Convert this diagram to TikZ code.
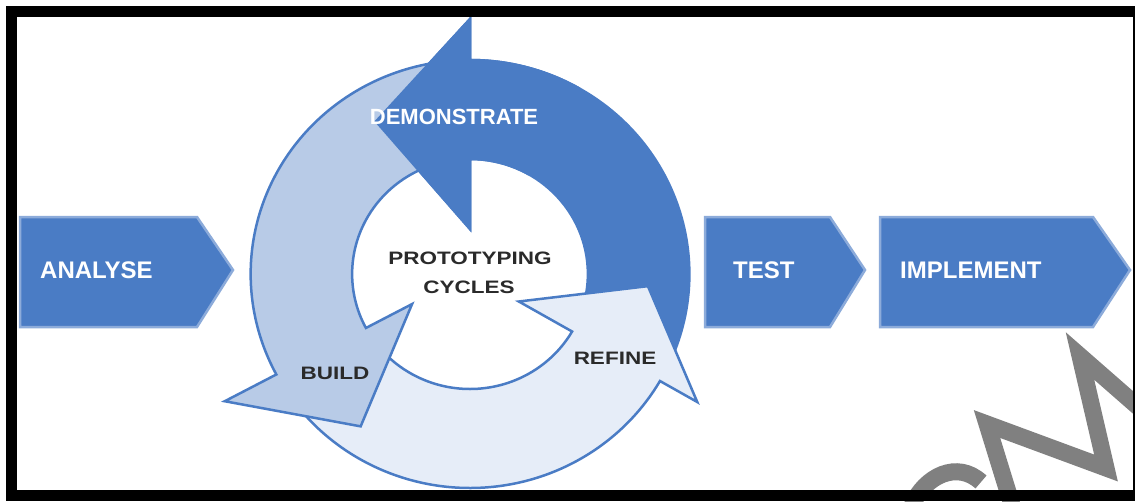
\documentclass[tikz,border=0pt]{standalone}
\usepackage{fontspec}
\setmainfont{Liberation Sans}
\usepackage{graphicx}
\definecolor{darkblue}{HTML}{4A7CC5}
\definecolor{chevedge}{HTML}{8CABDA}
\definecolor{ringblue}{HTML}{4A7CC5}
\definecolor{buildfill}{HTML}{B8CBE7}
\definecolor{refinefill}{HTML}{E6EDF8}
\definecolor{txtgrey}{HTML}{2A2A2A}
\definecolor{wmgrey}{HTML}{808080}
\begin{document}
\begin{tikzpicture}[x=1pt,y=-1pt,
  ringline/.style={draw=ringblue, line width=2.5pt, line join=miter},
  chev/.style={fill=darkblue, draw=chevedge, line width=2.5pt, line join=miter},
  chevtext/.style={text=white, font=\fontsize{24}{24}\selectfont\bfseries, anchor=west, inner sep=0pt},
  ringtext/.style={text=txtgrey, font=\fontsize{18}{18}\selectfont\bfseries, inner sep=0pt},
  wmstroke/.style={draw=wmgrey, line width=17pt, line join=miter, miter limit=10, line cap=butt}]
\useasboundingbox (0,0) rectangle (1135,501);
\clip (0,0) rectangle (1135,501);
\fill[white] (0,0) rectangle (1135,501);

% chevrons
\path[chev] (20,217) -- (197,217) -- (233,270) -- (197,327) -- (20,327) -- cycle;
\node[chevtext] (analyse) at (40,270) {ANALYSE};
\path[chev] (705,217) -- (830,217) -- (865,270) -- (830,327) -- (705,327) -- cycle;
\node[chevtext] (test) at (733,270) {TEST};
\path[chev] (880,217) -- (1093,217) -- (1130,270) -- (1093,327) -- (880,327) -- cycle;
\node[chevtext] (implement) at (900,270) {IMPLEMENT};

% cycle
\begin{scope}[shift={(470,274)}, yscale=-1, xscale=1.025]
  \def\darkarrow{(-27:214) arc[start angle=-27, end angle=90, radius=214] -- (90:255) -- (121:178) -- (90:45) -- (90:115) arc[start angle=90, end angle=-27, radius=115] -- cycle}
  \path[ringline, fill=darkblue] \darkarrow;
  \path[ringline, fill=refinefill] (215:214) arc[start angle=215, end angle=330, radius=214] -- (330:256) -- (356:174) -- (330:55) -- (330:115) arc[start angle=330, end angle=215, radius=115] -- cycle;
  \path[ringline, fill=buildfill] (95:214) arc[start angle=95, end angle=208, radius=214] -- (208:271) -- (235:186) -- (208:64) -- (208:115) arc[start angle=208, end angle=95, radius=115] -- cycle;
  \begin{scope}
    \clip (0,0) -- (60:330) arc[start angle=60, end angle=140, radius=330] -- cycle;
    \path[ringline, fill=darkblue] \darkarrow;
  \end{scope}
\end{scope}

\node[text=white, font=\fontsize{22}{22}\selectfont\bfseries, inner sep=0pt] (demo) at (454,117) {DEMONSTRATE};
\node[ringtext] (proto1) at (470,258) {\scalebox{1.25}[1]{PROTOTYPING}};
\node[ringtext] (proto2) at (469,287) {\scalebox{1.25}[1]{CYCLES}};
\node[ringtext] (build) at (335,373) {\scalebox{1.25}[1]{BUILD}};
\node[ringtext] (refine) at (615,358) {\scalebox{1.25}[1]{REFINE}};

% watermark
\draw[wmstroke] (912,505) .. controls (925,476) and (957,460) .. (981,482);
\draw[wmstroke] (1012,505) -- (987,424) -- (1106,468) -- (1080,356) -- (1160,426);

% frame
\draw[black, line width=11pt] (11.5,11.5) rectangle (1138,495.5);
\end{tikzpicture}
\end{document}
